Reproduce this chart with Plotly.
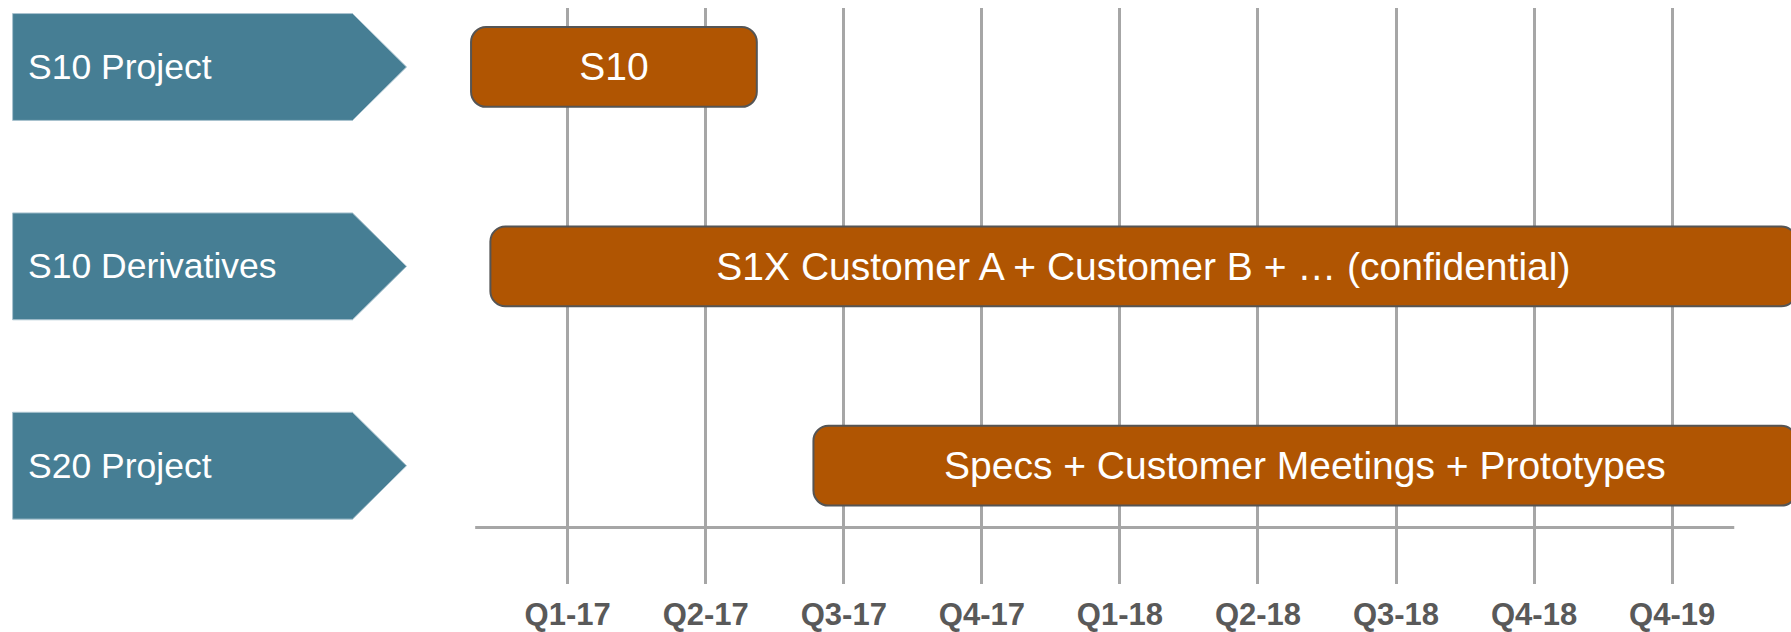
import plotly.graph_objects as go

# ---- data ----
rows = ["S10 Project", "S10 Derivatives", "S20 Project"]
bar_labels = ["S10", "S1X Customer A + Customer B + … (confidential)",
              "Specs + Customer Meetings + Prototypes"]
bar_start = [-0.70, -0.56, 1.78]   # in quarter units (0 = Q1-17)
bar_end = [1.37, 8.90, 8.90]
quarters = ["Q1-17", "Q2-17", "Q3-17", "Q4-17", "Q1-18", "Q2-18", "Q3-18", "Q4-18", "Q4-19"]

W, H = 1791, 632
FONT = "Liberation Sans Narrow, Arial Narrow, Liberation Sans, Arial, sans-serif"
BAR_COLOR = "#B05502"
CHEV_COLOR = "#467E94"
GRID = "#A6A6A6"

row_idx = list(range(len(rows)))
durations = [e - s for s, e in zip(bar_start, bar_end)]

fig = go.Figure()
fig.add_trace(go.Bar(
    y=row_idx, base=bar_start, x=durations, orientation="h",
    width=0.40,
    marker=dict(color=BAR_COLOR, line=dict(color="#555555", width=2), cornerradius=15),
    text=bar_labels, textposition="inside", insidetextanchor="middle",
    textfont=dict(family=FONT, size=39, color="white"),
    constraintext="none", cliponaxis=True, hoverinfo="skip", showlegend=False,
))

# chevron row labels
shapes = []
annotations = []
x0, xb, xt = 12.6 / W, 352.5 / W, 406.5 / W
half = 0.268
for i, name in enumerate(rows):
    y0, y1 = i - half, i + half
    shapes.append(dict(
        type="path", xref="paper", yref="y",
        path=f"M {x0},{y0} L {xb},{y0} L {xt},{i} L {xb},{y1} L {x0},{y1} Z",
        fillcolor=CHEV_COLOR, line=dict(color="#A9C3CF", width=1), layer="above",
    ))
    annotations.append(dict(
        xref="paper", yref="y", x=26 / W, y=i, text=name, showarrow=False,
        xanchor="left", yanchor="middle",
        font=dict(family=FONT, size=35.5, color="white"),
    ))

# horizontal baseline
shapes.append(dict(type="line", xref="x", yref="paper", x0=-0.67, x1=8.45,
                   y0=(588 - 531) / 580, y1=(588 - 531) / 580,
                   line=dict(color=GRID, width=3), layer="below"))

fig.update_layout(
    width=W, height=H, margin=dict(l=0, r=0, t=8, b=44),
    paper_bgcolor="white", plot_bgcolor="white",
    shapes=shapes, annotations=annotations, showlegend=False,
    xaxis=dict(range=[-4.112, 8.861], tickvals=list(range(len(quarters))), ticktext=quarters,
               showgrid=True, gridcolor=GRID, gridwidth=3, zeroline=False, showline=False,
               ticks="", ticklabelstandoff=9,
               tickfont=dict(family=FONT, size=31, color="#595959", weight="bold")),
    yaxis=dict(range=[2.5933, -0.2959], showgrid=False, zeroline=False, showticklabels=False,
               showline=False),
)

fig.write_html("out.html", config={"displayModeBar": False},
               post_script="document.body.style.margin='0';document.body.style.overflow='hidden';")
